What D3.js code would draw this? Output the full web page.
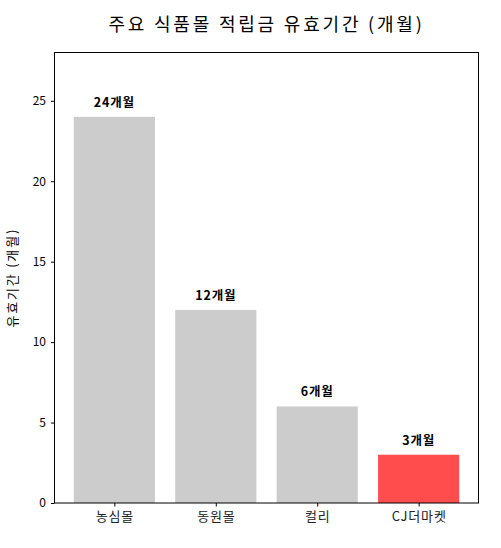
<!DOCTYPE html>
<html>
<head>
<meta charset="utf-8">
<script src="https://cdn.jsdelivr.net/npm/d3@7"></script>
<style>
  body { margin: 0; background: #fff; }
  text { font-family: "Noto Sans CJK KR", "Noto Sans", sans-serif; }
</style>
</head>
<body>
<div id="body"></div>
<script>
// chart data
var malls = ['농심몰', '동원몰', '컬리', 'CJ더마켓'];
var months = [24, 12, 6, 3];
var barColors = ['#cccccc', '#cccccc', '#cccccc', '#ff4d4d'];
var yTicks = [0, 5, 10, 15, 20, 25];

var width = 501, height = 548;
var margin = {left: 54.5, right: 22.5, top: 52.5, bottom: 45};

var svg = d3.select('#body')
  .append('svg')
  .attr('width', width)
  .attr('height', height);

var x = d3.scaleLinear()
  .domain([-0.59, malls.length - 1 + 0.59])
  .range([margin.left, width - margin.right]);

var y = d3.scaleLinear()
  .domain([0, 28])
  .range([height - margin.bottom, margin.top]);

// bars
svg.selectAll('.bar')
  .data(months)
  .enter()
  .append('rect')
  .attr('class', 'bar')
  .attr('x', function(d, i) { return x(i - 0.4); })
  .attr('width', function(d, i) { return x(i + 0.4) - x(i - 0.4); })
  .attr('y', function(d) { return y(d); })
  .attr('height', function(d) { return y(0) - y(d); })
  .style('fill', function(d, i) { return barColors[i]; });

// value labels
svg.selectAll('.val')
  .data(months)
  .enter()
  .append('text')
  .attr('class', 'val')
  .attr('x', function(d, i) { return x(i); })
  .attr('y', function(d) { return y(d + 0.5) - 2; })
  .attr('text-anchor', 'middle')
  .style('font-size', '12.5px')
  .style('font-weight', 'bold')
  .style('letter-spacing', '0.8px')
  .text(function(d) { return d + '개월'; });

// axes
var yAxis = svg.append('g')
  .attr('transform', 'translate(' + margin.left + ',0)')
  .call(d3.axisLeft(y).tickValues(yTicks).tickSize(3.5).tickPadding(5));
yAxis.select('.domain').remove();
yAxis.selectAll('text').style('font-size', '12px').style('fill', '#000');

var xAxis = svg.append('g')
  .attr('transform', 'translate(0,' + y(0) + ')')
  .call(d3.axisBottom(x).tickValues(d3.range(malls.length))
    .tickFormat(function(d) { return malls[d]; }).tickSize(3.5).tickPadding(5));
xAxis.select('.domain').remove();
xAxis.selectAll('text').style('font-size', '13px').style('fill', '#222')
  .style('letter-spacing', '0.8px');

// frame
svg.append('rect')
  .attr('x', margin.left)
  .attr('y', margin.top)
  .attr('width', width - margin.right - margin.left)
  .attr('height', y(0) - margin.top)
  .style('fill', 'none')
  .style('stroke', '#000')
  .style('stroke-width', 1);

// title and y label
svg.append('text')
  .attr('x', (margin.left + width - margin.right) / 2)
  .attr('y', 31)
  .attr('text-anchor', 'middle')
  .style('font-size', '18px')
  .style('letter-spacing', '2.8px')
  .text('주요 식품몰 적립금 유효기간 (개월)');

svg.append('text')
  .attr('transform', 'translate(17,' + (margin.top + y(0)) / 2 + ') rotate(-90)')
  .attr('text-anchor', 'middle')
  .style('font-size', '13px')
  .style('letter-spacing', '1.8px')
  .text('유효기간 (개월)');
</script>
</body>
</html>
